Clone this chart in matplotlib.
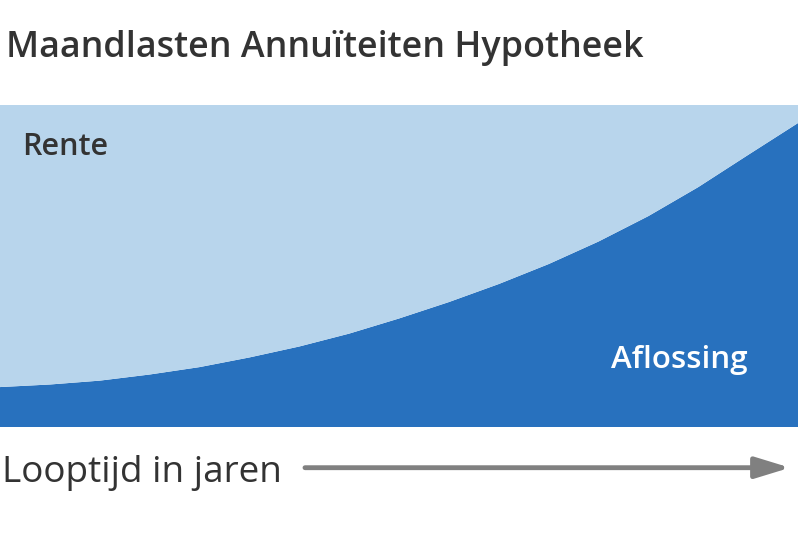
import matplotlib
matplotlib.use("Agg")
import matplotlib.pyplot as plt

# Data (monthly payment = 100 units, constant for an annuity mortgage)
jaren = [0, 2, 4, 6, 8, 10, 12, 14, 16, 18, 20, 22, 24, 26, 28, 30, 32]
aflossing = [12.4, 13.2, 14.4, 16.3, 18.6, 21.6, 25.0, 29.0, 33.7, 38.8,
             44.4, 50.6, 57.6, 65.5, 74.5, 84.5, 94.4]
maandlast = 100.0
rente = [maandlast - a for a in aflossing]

title = "Maandlasten Annuïteiten Hypotheek"
label_rente = "Rente"
label_aflossing = "Aflossing"
xlabel = "Looptijd in jaren"

c_light = "#B8D5EC"
c_dark = "#2871BE"
c_text = "#333333"
c_arrow = "#808080"

W, H = 800, 533
fig = plt.figure(figsize=(W / 100, H / 100), dpi=100)
fig.patch.set_facecolor("white")

def fx(px):
    return px / W

def fy(py):
    return 1 - py / H

top, bottom, right = 105, 427, 798
ax = fig.add_axes([0, fy(bottom), fx(right), (bottom - top) / H])
ax.stackplot(jaren, aflossing, rente, colors=[c_dark, c_light], linewidth=0)
ax.set_xlim(jaren[0], jaren[-1])
ax.set_ylim(0, maandlast)
ax.axis("off")

font = "Open Sans"
fig.text(fx(6), fy(56.7), title, family=font, weight=600, fontsize=25.8,
         color=c_text, ha="left", va="baseline")
fig.text(fx(22), fy(155), label_rente, family=font, weight=600, fontsize=22,
         color=c_text, ha="left", va="baseline")
fig.text(fx(611), fy(367.7), label_aflossing, family=font, weight=600, fontsize=22.6,
         color="white", ha="left", va="baseline")
fig.text(fx(2), fy(481.7), xlabel, family=font, weight="normal", fontsize=26.6,
         color=c_text, ha="left", va="baseline")

fig.add_artist(matplotlib.patches.FancyArrowPatch(
    (fx(305), fy(467.7)), (fx(790), fy(467.7)), transform=fig.transFigure,
    arrowstyle="-|>,head_length=1.5,head_width=0.46", mutation_scale=14,
    lw=3.5, color=c_arrow, shrinkA=0, shrinkB=0))

fig.savefig("out.png", dpi=100)
